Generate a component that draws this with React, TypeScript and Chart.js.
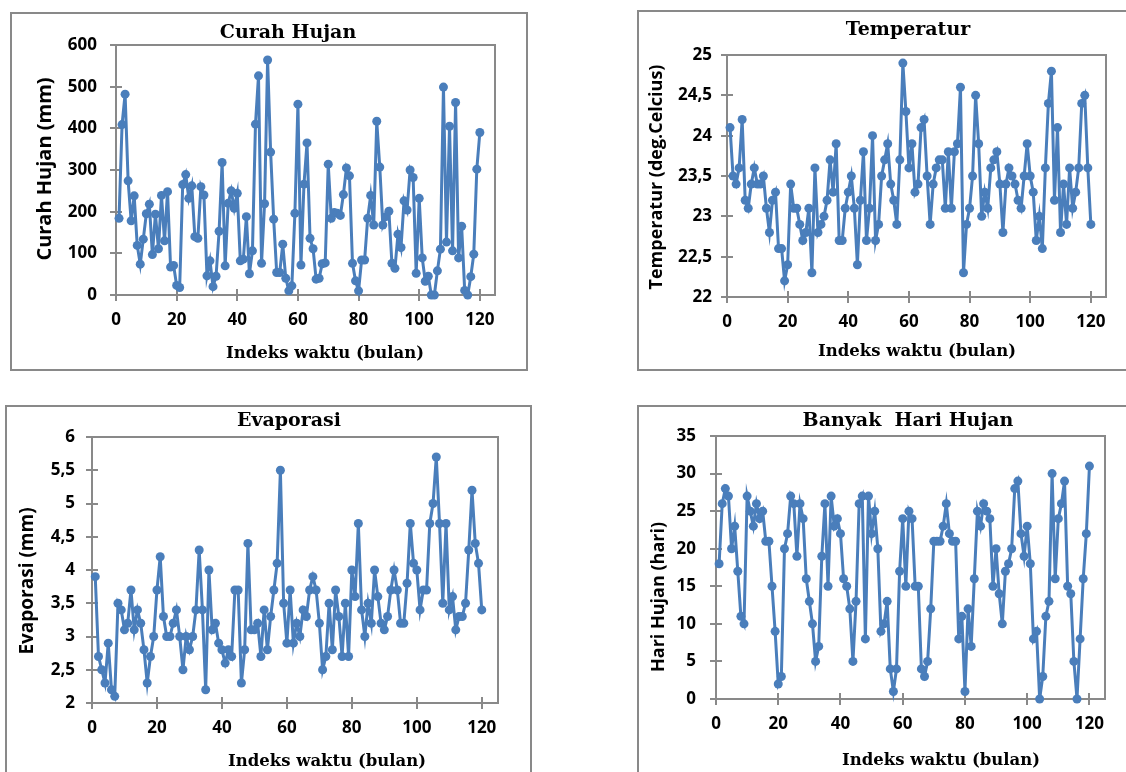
import React, { useEffect, useRef } from 'react';
import { Chart, registerables } from 'chart.js';

Chart.register(...registerables);

// ---------- data ----------
const xTickValues = [0, 20, 40, 60, 80, 100, 120];

const rainfall = [
  184, 409, 482, 274, 178, 238, 119, 74, 134, 195,
  218, 97, 194, 111, 239, 130, 248, 67, 71, 23,
  18, 265, 289, 232, 262, 140, 136, 260, 240, 46,
  82, 20, 45, 153, 318, 70, 220, 250, 208, 244,
  82, 86, 188, 51, 106, 410, 526, 76, 219, 564,
  343, 182, 54, 54, 122, 40, 10, 22, 196, 458,
  72, 266, 365, 136, 111, 38, 40, 75, 77, 314,
  184, 198, 196, 191, 241, 305, 286, 76, 34, 10,
  84, 84, 184, 239, 168, 417, 307, 168, 188, 201,
  76, 64, 146, 114, 226, 204, 300, 282, 52, 232,
  89, 33, 45, 0, 0, 58, 110, 499, 127, 405,
  106, 462, 89, 165, 11, 0, 44, 98, 302, 390,
];
const rainfallTicks = [0, 100, 200, 300, 400, 500, 600];

const temperature = [
  24.1, 23.5, 23.4, 23.6, 24.2, 23.2, 23.1, 23.4, 23.6, 23.4,
  23.4, 23.5, 23.1, 22.8, 23.2, 23.3, 22.6, 22.6, 22.2, 22.4,
  23.4, 23.1, 23.1, 22.9, 22.7, 22.8, 23.1, 22.3, 23.6, 22.8,
  22.9, 23.0, 23.2, 23.7, 23.3, 23.9, 22.7, 22.7, 23.1, 23.3,
  23.5, 23.1, 22.4, 23.2, 23.8, 22.7, 23.1, 24.0, 22.7, 22.9,
  23.5, 23.7, 23.9, 23.4, 23.2, 22.9, 23.7, 24.9, 24.3, 23.6,
  23.9, 23.3, 23.4, 24.1, 24.2, 23.5, 22.9, 23.4, 23.6, 23.7,
  23.7, 23.1, 23.8, 23.1, 23.8, 23.9, 24.6, 22.3, 22.9, 23.1,
  23.5, 24.5, 23.9, 23.0, 23.3, 23.1, 23.6, 23.7, 23.8, 23.4,
  22.8, 23.4, 23.6, 23.5, 23.4, 23.2, 23.1, 23.5, 23.9, 23.5,
  23.3, 22.7, 23.0, 22.6, 23.6, 24.4, 24.8, 23.2, 24.1, 22.8,
  23.4, 22.9, 23.6, 23.1, 23.3, 23.6, 24.4, 24.5, 23.6, 22.9,
];
const temperatureTicks = [22, 22.5, 23, 23.5, 24, 24.5, 25];

const evaporation = [
  3.9, 2.7, 2.5, 2.3, 2.9, 2.2, 2.1, 3.5, 3.4, 3.1,
  3.2, 3.7, 3.1, 3.4, 3.2, 2.8, 2.3, 2.7, 3.0, 3.7,
  4.2, 3.3, 3.0, 3.0, 3.2, 3.4, 3.0, 2.5, 3.0, 2.8,
  3.0, 3.4, 4.3, 3.4, 2.2, 4.0, 3.1, 3.2, 2.9, 2.8,
  2.6, 2.8, 2.7, 3.7, 3.7, 2.3, 2.8, 4.4, 3.1, 3.1,
  3.2, 2.7, 3.4, 2.8, 3.3, 3.7, 4.1, 5.5, 3.5, 2.9,
  3.7, 2.9, 3.2, 3.0, 3.4, 3.3, 3.7, 3.9, 3.7, 3.2,
  2.5, 2.7, 3.5, 2.8, 3.7, 3.3, 2.7, 3.5, 2.7, 4.0,
  3.6, 4.7, 3.4, 3.0, 3.5, 3.2, 4.0, 3.6, 3.2, 3.1,
  3.3, 3.7, 4.0, 3.7, 3.2, 3.2, 3.8, 4.7, 4.1, 4.0,
  3.4, 3.7, 3.7, 4.7, 5.0, 5.7, 4.7, 3.5, 4.7, 3.4,
  3.6, 3.1, 3.3, 3.3, 3.5, 4.3, 5.2, 4.4, 4.1, 3.4,
];
const evaporationTicks = [2, 2.5, 3, 3.5, 4, 4.5, 5, 5.5, 6];

const rainyDays = [
  18, 26, 28, 27, 20, 23, 17, 11, 10, 27,
  25, 23, 26, 24, 25, 21, 21, 15, 9, 2,
  3, 20, 22, 27, 26, 19, 26, 24, 16, 13,
  10, 5, 7, 19, 26, 15, 27, 23, 24, 22,
  16, 15, 12, 5, 13, 26, 27, 8, 27, 22,
  25, 20, 9, 10, 13, 4, 1, 4, 17, 24,
  15, 25, 24, 15, 15, 4, 3, 5, 12, 21,
  21, 21, 23, 26, 22, 21, 21, 8, 11, 1,
  12, 7, 16, 25, 23, 26, 25, 24, 15, 20,
  14, 10, 17, 18, 20, 28, 29, 22, 19, 23,
  18, 8, 9, 0, 3, 11, 13, 30, 16, 24,
  26, 29, 15, 14, 5, 0, 8, 16, 22, 31,
];
const rainyDayTicks = [0, 5, 10, 15, 20, 25, 30, 35];

const xTitle = 'Indeks waktu (bulan)';

// ---------- styling / layout ----------
const LINE = '#4a7ebb';
const GRAY = '#898989';
const SERIF = '"DejaVu Serif", serif';
const SANS_WIDE = '"Open Sans", "Noto Sans", sans-serif';

type PanelCfg = {
  id: string;
  values: number[];
  yTicks: number[];
  title: string;
  yTitle: string;
  box: { x: number; y: number; w: number; h: number };
  area: { l: number; t: number; r: number; b: number }; // page coords
  titlePos: [number, number];
  xTitlePos: [number, number];
  yTitlePos: [number, number];
  yTitleSize: number;
  yPad: number;
};

const panels: PanelCfg[] = [
  {
    id: 'rain', values: rainfall, yTicks: rainfallTicks,
    title: 'Curah Hujan', yTitle: 'Curah Hujan (mm)',
    box: { x: 10, y: 12, w: 518, h: 359 },
    area: { l: 116, t: 45, r: 495, b: 295 },
    titlePos: [288, 33], xTitlePos: [325, 354], yTitlePos: [45, 169],
    yTitleSize: 20, yPad: 19,
  },
  {
    id: 'temp', values: temperature, yTicks: temperatureTicks,
    title: 'Temperatur', yTitle: 'Temperatur (deg.Celcius)',
    box: { x: 637, y: 10, w: 503, h: 361 },
    area: { l: 727, t: 55, r: 1106, b: 297 },
    titlePos: [908, 30], xTitlePos: [917, 352], yTitlePos: [657, 177],
    yTitleSize: 18, yPad: 15,
  },
  {
    id: 'evap', values: evaporation, yTicks: evaporationTicks,
    title: 'Evaporasi', yTitle: 'Evaporasi (mm)',
    box: { x: 5, y: 405, w: 527, h: 400 },
    area: { l: 92, t: 437, r: 498, b: 703 },
    titlePos: [289, 421], xTitlePos: [327, 762], yTitlePos: [28, 581],
    yTitleSize: 19, yPad: 17,
  },
  {
    id: 'days', values: rainyDays, yTicks: rainyDayTicks,
    title: 'Banyak  Hari Hujan', yTitle: 'Hari Hujan (hari)',
    box: { x: 637, y: 405, w: 503, h: 400 },
    area: { l: 716, t: 436, r: 1105, b: 699 },
    titlePos: [908, 421], xTitlePos: [941, 761], yTitlePos: [659, 597],
    yTitleSize: 18, yPad: 20,
  },
];

const decorPlugin = {
  id: 'decor',
  beforeDatasetsDraw(chart: any) {
    const { ctx, chartArea: a, scales } = chart;
    ctx.save();
    ctx.strokeStyle = GRAY;
    ctx.lineWidth = 2;
    // outer frame
    ctx.strokeRect(1, 1, chart.width - 2, chart.height - 2);
    // plot area frame
    ctx.strokeRect(a.left, a.top, a.right - a.left, a.bottom - a.top);
    // crossing tick marks
    ctx.beginPath();
    for (const t of scales.y.ticks) {
      const y = Math.round(scales.y.getPixelForValue(t.value));
      ctx.moveTo(a.left - 6, y);
      ctx.lineTo(a.left + 6, y);
    }
    for (const t of scales.x.ticks) {
      const x = Math.round(scales.x.getPixelForValue(t.value));
      ctx.moveTo(x, a.bottom - 6);
      ctx.lineTo(x, a.bottom + 6);
    }
    ctx.stroke();
    ctx.restore();
  },
  afterDraw(chart: any, _args: any, opts: any) {
    const { ctx } = chart;
    const ox = opts.originX, oy = opts.originY;
    ctx.save();
    ctx.fillStyle = '#000';
    ctx.textAlign = 'center';
    ctx.textBaseline = 'middle';
    ctx.font = `bold 19px ${SERIF}`;
    ctx.fillText(opts.title, opts.titleX - ox, opts.titleY - oy);
    ctx.font = `bold 16.5px ${SERIF}`;
    ctx.fillText(opts.xTitle, opts.xTitleX - ox, opts.xTitleY - oy);
    ctx.translate(opts.yTitleX - ox, opts.yTitleY - oy);
    ctx.rotate(-Math.PI / 2);
    ctx.font = `bold ${opts.yTitleSize}px ${SANS_WIDE}`;
    ctx.fillText(opts.yTitle, 0, 0);
    ctx.restore();
  },
};

function Panel({ cfg }: { cfg: PanelCfg }) {
  const ref = useRef<HTMLCanvasElement>(null);
  useEffect(() => {
    const canvas = ref.current;
    if (!canvas) return;
    const { box, area } = cfg;
    const points = cfg.values.map((v, i) => ({ x: i + 1, y: v }));
    const tickFont = { family: SANS_WIDE, weight: 'bold' as const, size: 17 };
    const yScaleWidth = area.l - box.x - 2;
    const xScaleHeight = box.y + box.h - area.b - 2;
    const chart = new Chart(canvas, {
      type: 'line',
      data: {
        datasets: [
          {
            data: points,
            borderColor: LINE,
            backgroundColor: LINE,
            borderWidth: 3,
            pointRadius: 4.5,
            pointBackgroundColor: LINE,
            pointBorderWidth: 0,
            tension: 0,
            clip: false as any,
          },
        ],
      },
      options: {
        animation: false,
        responsive: false,
        devicePixelRatio: 1,
        events: [],
        layout: {
          padding: {
            left: 2,
            top: area.t - box.y,
            right: box.x + box.w - area.r,
            bottom: 2,
          },
        },
        plugins: {
          legend: { display: false },
          tooltip: { enabled: false },
          decor: {
            originX: box.x, originY: box.y,
            title: cfg.title, titleX: cfg.titlePos[0], titleY: cfg.titlePos[1],
            xTitle, xTitleX: cfg.xTitlePos[0], xTitleY: cfg.xTitlePos[1],
            yTitle: cfg.yTitle, yTitleX: cfg.yTitlePos[0], yTitleY: cfg.yTitlePos[1],
            yTitleSize: cfg.yTitleSize,
          },
        } as any,
        scales: {
          x: {
            type: 'linear',
            min: 0,
            max: 125,
            grid: { display: false, drawTicks: false },
            border: { display: false },
            ticks: { font: tickFont, color: '#000', padding: 15, maxRotation: 0, autoSkip: false, includeBounds: false },
            afterBuildTicks: (s: any) => { s.ticks = xTickValues.map((v) => ({ value: v })); },
            afterFit: (s: any) => { s.height = xScaleHeight; },
          },
          y: {
            type: 'linear',
            min: cfg.yTicks[0],
            max: cfg.yTicks[cfg.yTicks.length - 1],
            grid: { display: false, drawTicks: false },
            border: { display: false },
            ticks: {
              font: tickFont, color: '#000', padding: cfg.yPad, autoSkip: false,
              callback: (v: any) => String(v).replace('.', ','),
            },
            afterBuildTicks: (s: any) => { s.ticks = cfg.yTicks.map((v) => ({ value: v })); },
            afterFit: (s: any) => { s.width = yScaleWidth; },
          },
        },
      } as any,
      plugins: [decorPlugin as any],
    });
    return () => chart.destroy();
  }, [cfg]);
  return (
    <canvas
      ref={ref}
      width={cfg.box.w}
      height={cfg.box.h}
      style={{ position: 'absolute', left: cfg.box.x, top: cfg.box.y, width: cfg.box.w, height: cfg.box.h }}
    />
  );
}

export default function App() {
  return (
    <div style={{ position: 'fixed', left: 0, top: 0, width: 1126, height: 772, overflow: 'hidden', background: '#fff' }}>
      {panels.map((p) => (
        <Panel key={p.id} cfg={p} />
      ))}
    </div>
  );
}
